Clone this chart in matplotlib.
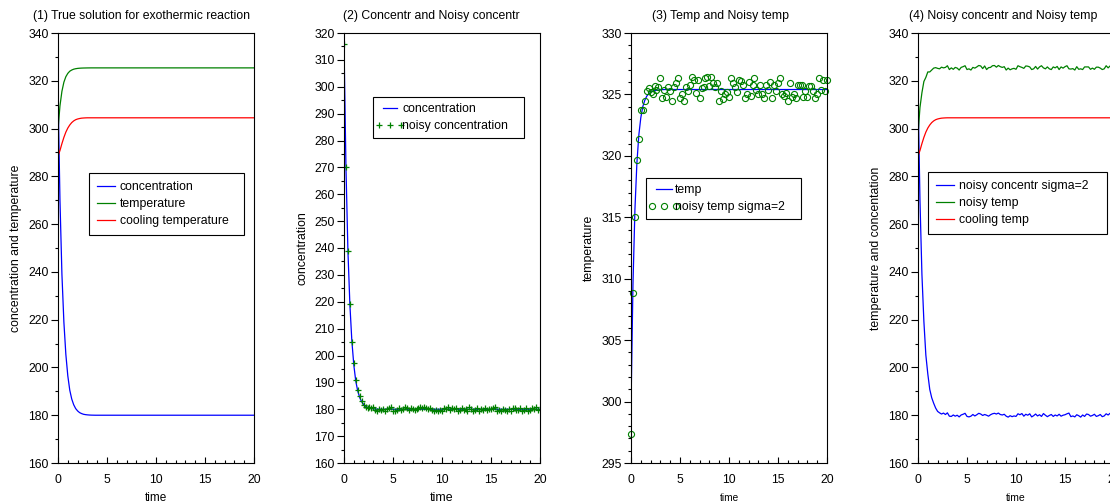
import numpy as np
import matplotlib
matplotlib.use('Agg')
import matplotlib.pyplot as plt
from matplotlib.ticker import MultipleLocator
from matplotlib.legend_handler import HandlerLine2D

plt.rcParams['font.family'] = ['Liberation Sans', 'DejaVu Sans']
plt.rcParams['font.size'] = 8.8

# ---------------- data ----------------
t_true = [0.0, 0.2, 0.4, 0.6, 0.8, 1.0, 1.2, 1.4, 1.6, 1.8, 2.0,
          2.2, 2.4, 2.6, 2.8, 3.0, 3.2, 3.4, 3.6, 3.8, 4.0, 20.0]
conc_true = [316.0, 270.0, 239.0, 219.0, 205.5, 196.5, 190.5, 186.8, 184.4, 182.8, 181.8,
             181.1, 180.7, 180.4, 180.25, 180.15, 180.08, 180.04, 180.02, 180.0, 180.0, 180.0]
temp_true = [299.5, 309.5, 315.6, 319.4, 321.7, 323.1, 324.0, 324.5, 324.85, 325.05, 325.18,
             325.26, 325.31, 325.34, 325.36, 325.38, 325.39, 325.4, 325.4, 325.4, 325.4, 325.4]
cool_true = [288.5, 290.8, 293.7, 296.3, 298.5, 300.2, 301.5, 302.5, 303.2, 303.7, 304.0,
             304.2, 304.35, 304.42, 304.47, 304.5, 304.5, 304.5, 304.5, 304.5, 304.5, 304.5]

t_noisy = np.linspace(0, 20, 101)
noisy_conc = [316.0, 270.0, 239.0, 219.3, 205.2, 197.3, 190.8, 187.3, 185.0, 183.0,
              181.6, 181.0, 180.5, 180.9, 180.3, 181.0, 179.6, 179.5, 180.1, 179.6,
              180.0, 179.3, 180.1, 180.4, 180.8, 179.5, 179.3, 179.6, 180.3, 179.7,
              180.2, 180.8, 180.5, 179.9, 180.3, 180.0, 179.6, 180.2, 180.6, 180.8,
              180.5, 180.9, 180.3, 180.1, 180.4, 179.6, 179.2, 179.8, 179.4, 179.7,
              179.5, 180.6, 180.2, 180.7, 179.6, 180.4, 180.0, 180.6, 179.3, 179.8,
              180.5, 179.7, 180.2, 179.5, 180.7, 180.0, 179.4, 179.9, 180.3, 179.5,
              180.1, 179.7, 180.4, 179.6, 180.0, 180.2, 180.6, 180.9, 179.4, 179.7,
              179.3, 180.2, 179.8, 179.2, 180.1, 179.5, 180.5, 180.3, 179.6, 179.9,
              180.4, 179.5, 179.8, 180.3, 179.4, 179.7, 180.6, 180.1, 180.8, 179.8,
              180.0]
noisy_temp = [297.4, 308.8, 315.0, 319.7, 321.4, 323.7, 323.7, 324.5, 325.3, 325.5,
              325.2, 325.0, 325.7, 325.4, 325.6, 326.3, 324.7, 325.4, 324.8, 325.6,
              325.3, 324.5, 325.6, 325.9, 326.3, 324.7, 325.0, 324.5, 325.6, 325.3,
              325.8, 326.4, 326.2, 325.1, 326.2, 324.7, 325.5, 325.6, 326.3, 326.4,
              325.7, 326.4, 325.9, 325.6, 325.9, 324.5, 325.3, 324.6, 325.0, 325.2,
              324.8, 326.3, 325.9, 325.6, 325.2, 326.2, 326.1, 325.8, 324.7, 325.0,
              326.0, 324.9, 325.8, 326.3, 325.4, 325.0, 325.8, 325.0, 324.7, 325.8,
              325.4, 326.0, 324.7, 325.8, 325.3, 325.9, 326.3, 325.0, 324.9, 325.1,
              324.5, 325.9, 324.8, 325.0, 324.7, 325.8, 325.8, 325.8, 324.8, 325.3,
              324.8, 325.7, 325.7, 325.3, 324.7, 325.0, 326.3, 325.4, 326.2, 325.3,
              326.2]

titles = ["(1) True solution for exothermic reaction",
          "(2) Concentr and Noisy concentr",
          "(3) Temp and Noisy temp",
          "(4) Noisy concentr and Noisy temp"]
ylabels = ["concentration and temperature", "concentration",
           "temperature", "temperature and concentation"]

BLUE = '#0000ff'
GREEN = '#008000'
RED = '#ff0000'

# ---------------- layout ----------------
W, H = 1110, 503
fig = plt.figure(figsize=(W / 100, H / 100), dpi=100)
lefts = [58, 344, 631, 918]
AX_W, AX_TOP, AX_BOT = 196, 33, 463
AX_H = AX_BOT - AX_TOP
title_x = [0.426, 0.444, 0.457, 0.436]
time_sizes = [8.5, 8.9, 7.3, 7.5]

axes = []
for i, left in enumerate(lefts):
    ax = fig.add_axes([left / W, (H - AX_BOT) / H, AX_W / W, AX_H / H])
    ax.set_xlim(0, 20)
    ax.xaxis.set_major_locator(MultipleLocator(5))
    ax.xaxis.set_minor_locator(MultipleLocator(1))
    ax.tick_params(axis='y', which='major', direction='out', length=5, width=0.8, pad=1.5,
                   labelsize=8.8)
    ax.tick_params(axis='y', which='minor', direction='out', length=2, width=0.8)
    ax.tick_params(axis='x', which='major', direction='in', length=4, width=0.8, pad=8,
                   labelsize=8.8)
    ax.tick_params(axis='x', which='minor', direction='in', length=2.5, width=0.8)
    for sp in ax.spines.values():
        sp.set_linewidth(0.8)
    ax.text(title_x[i], 1 + (AX_TOP - 16) / AX_H, titles[i], transform=ax.transAxes,
            ha='center', va='center', fontsize=8.8)
    ax.set_xlabel('time', fontsize=time_sizes[i])
    ax.xaxis.set_label_coords(0.5, -35 / AX_H)
    ax.xaxis.label.set_verticalalignment('center')
    ax.set_ylabel(ylabels[i], fontsize=8.8)
    ax.yaxis.set_label_coords(-42 / AX_W, 0.5)
    ax.yaxis.label.set_verticalalignment('center')
    axes.append(ax)

ax_left = {ax: l for ax, l in zip(axes, lefts)}

LW = 0.9
leg_kw = dict(loc='upper left', mode='expand', borderaxespad=0, borderpad=0.65,
              labelspacing=0.42, handlelength=1.5, handletextpad=0.35, fancybox=False,
              edgecolor='black', framealpha=1, fontsize=8.8)

def place_legend(ax, handles, labels, x0, x1, ytop, **kw):
    bx0 = (x0 - ax_left[ax]) / AX_W
    bw = (x1 - x0) / AX_W
    by = (AX_BOT - ytop) / AX_H
    opts = dict(leg_kw)
    opts.update(kw)
    leg = ax.legend(handles, labels, bbox_to_anchor=(bx0, by, bw, 0), **opts)
    leg.get_frame().set_linewidth(0.8)
    return leg

# Panel 1
ax = axes[0]
ax.set_ylim(160, 340)
ax.yaxis.set_major_locator(MultipleLocator(20))
ax.yaxis.set_minor_locator(MultipleLocator(10))
l1, = ax.plot(t_true, conc_true, color=BLUE, lw=LW)
l2, = ax.plot(t_true, temp_true, color=GREEN, lw=LW)
l3, = ax.plot(t_true, cool_true, color=RED, lw=LW)
place_legend(ax, [l1, l2, l3], ['concentration', 'temperature', 'cooling temperature'],
             89, 244, 173)

# Panel 2
ax = axes[1]
ax.set_ylim(160, 320)
ax.yaxis.set_major_locator(MultipleLocator(10))
ax.yaxis.set_minor_locator(MultipleLocator(5))
l1, = ax.plot(t_true, conc_true, color=BLUE, lw=LW)
l2, = ax.plot(t_noisy, noisy_conc, linestyle='none', marker='+', color=GREEN,
              markersize=4.5, markeredgewidth=0.9)
place_legend(ax, [l1, l2], ['concentration', 'noisy concentration'], 373, 524, 97,
             numpoints=3, handlelength=1.8, handletextpad=0.1, borderpad=0.5,
             handler_map={l2: HandlerLine2D(marker_pad=0)})

# Panel 3
ax = axes[2]
ax.set_ylim(295, 330)
ax.yaxis.set_major_locator(MultipleLocator(5))
ax.yaxis.set_minor_locator(MultipleLocator(1))
l1, = ax.plot(t_true, temp_true, color=BLUE, lw=LW)
l2, = ax.plot(t_noisy, noisy_temp, linestyle='none', marker='o', markerfacecolor='none',
              markeredgecolor=GREEN, markersize=4.4, markeredgewidth=0.8, clip_on=False)
place_legend(ax, [l1, l2], ['temp', 'noisy temp sigma=2'], 646, 801, 178,
             numpoints=3, handlelength=1.95, handletextpad=-0.1, borderpad=0.5,
             handler_map={l2: HandlerLine2D(marker_pad=0)})

# Panel 4
ax = axes[3]
ax.set_ylim(160, 340)
ax.yaxis.set_major_locator(MultipleLocator(20))
ax.yaxis.set_minor_locator(MultipleLocator(10))
l1, = ax.plot(t_noisy, noisy_conc, color=BLUE, lw=LW)
l2, = ax.plot(t_noisy, noisy_temp, color=GREEN, lw=LW)
l3, = ax.plot(t_true, cool_true, color=RED, lw=LW)
place_legend(ax, [l1, l2, l3], ['noisy concentr sigma=2', 'noisy temp', 'cooling temp'],
             928, 1107, 172)

fig.savefig('out.png', dpi=100)
